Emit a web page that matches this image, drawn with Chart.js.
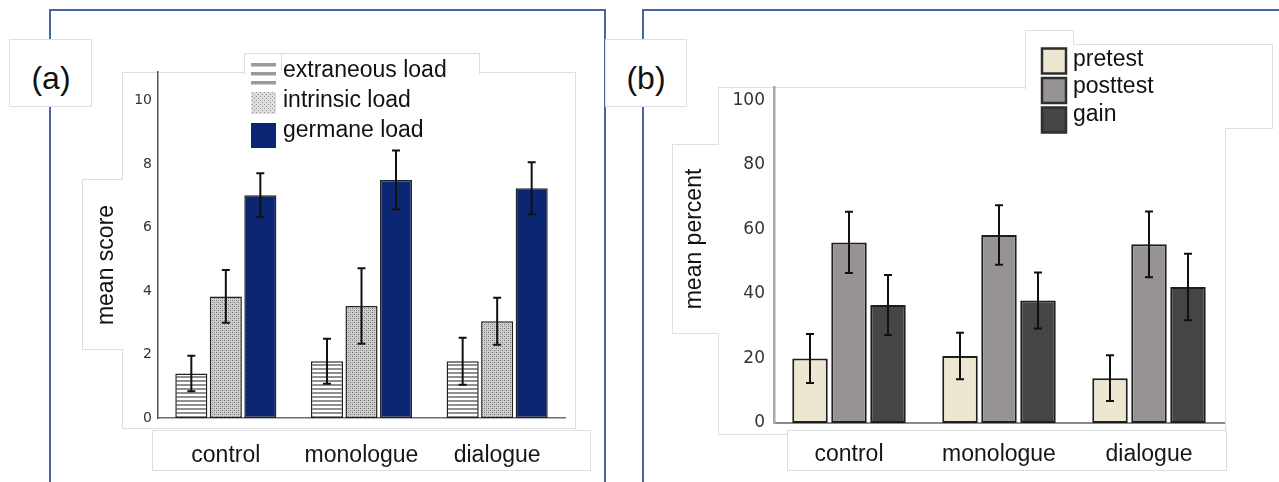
<!DOCTYPE html>
<html><head><meta charset="utf-8">
<script src="https://cdn.jsdelivr.net/npm/chart.js@4.4.1/dist/chart.umd.min.js"></script>
<style>
html,body{margin:0;padding:0;background:#fff;width:1279px;height:482px;overflow:hidden;position:relative;font-family:'Liberation Sans',Arial,sans-serif;}
.fr{position:absolute;border:2.5px solid #4366a8;border-bottom:none;box-sizing:border-box;}
.bx{position:absolute;background:#fff;box-sizing:border-box;border:0 solid #dedede;}
.ln{position:absolute;background:#dedede;}
.lbl{position:absolute;font-size:32px;line-height:40px;color:#111;text-align:center;}
canvas{position:absolute;top:0;}
</style></head><body>
<div class="fr" style="left:49px;top:9px;width:557px;height:500px;"></div>
<div class="fr" style="left:642px;top:9px;width:700px;height:500px;"></div>

<!-- panel a boxes -->
<div class="bx" style="left:122px;top:72px;width:454px;height:357px;border-width:1px;"></div>
<div class="bx" style="left:82px;top:179px;width:41px;height:171px;border-width:1px 0 1px 1px;"></div>
<div class="bx" style="left:244px;top:53px;width:236px;height:22px;border-width:1px 1px 0 1px;"></div>
<div class="ln" style="left:281px;top:53px;width:1px;height:18px;"></div>
<div class="bx" style="left:152px;top:430px;width:439px;height:41px;border-width:1px;"></div>
<div class="bx" style="left:9px;top:39px;width:83px;height:68px;border-width:1px;"></div>
<div class="lbl" style="left:9px;top:58px;width:84px;">(a)</div>

<!-- panel b boxes -->
<div class="bx" style="left:718px;top:87px;width:508px;height:348px;border-width:1px;"></div>
<div class="bx" style="left:672px;top:144px;width:47px;height:190px;border-width:1px 0 1px 1px;"></div>
<div class="bx" style="left:1025px;top:30px;width:49px;height:60px;border-width:1px 1px 0 1px;"></div>
<div class="bx" style="left:1073px;top:44px;width:200px;height:85px;border-width:1px 1px 0 0;"></div>
<div class="ln" style="left:1225px;top:128px;width:48px;height:1px;"></div>
<div class="bx" style="left:787px;top:430px;width:440px;height:41px;border-width:1px;"></div>
<div class="bx" style="left:605px;top:39px;width:82px;height:68px;border-width:1px;"></div>
<div class="lbl" style="left:605px;top:58px;width:82px;">(b)</div>

<canvas id="ca" width="640" height="482" style="left:0px;"></canvas>
<canvas id="cb" width="639" height="482" style="left:640px;"></canvas>

<script>
// ---------- data ----------
const categories = ['control', 'monologue', 'dialogue'];

const loadLabels = ['extraneous load', 'intrinsic load', 'germane load'];
const extraneousMean = [1.40, 1.79, 1.79];
const extraneousErr  = [0.56, 0.71, 0.74];
const intrinsicMean  = [3.83, 3.53, 3.05];
const intrinsicErr   = [0.83, 1.19, 0.74];
const germaneMean    = [7.02, 7.50, 7.24];
const germaneErr     = [0.69, 0.93, 0.82];
const scoreTicks     = [0, 2, 4, 6, 8, 10];

const testLabels   = ['pretest', 'posttest', 'gain'];
const pretestMean  = [20.0, 20.8, 13.9];
const pretestErr   = [7.6, 7.2, 7.1];
const posttestMean = [56.0, 58.3, 55.4];
const posttestErr  = [9.5, 9.2, 10.2];
const gainMean     = [36.6, 38.0, 42.2];
const gainErr      = [9.3, 8.7, 10.3];
const percentTicks = [0, 20, 40, 60, 80, 100];

// ---------- styles ----------
const SANS = "'Liberation Sans', Arial, sans-serif";
const TICKF = "'DejaVu Sans', sans-serif";
const NAVY = '#0b2672';

function makePattern(w, h, fn) {
  const c = document.createElement('canvas'); c.width = w; c.height = h;
  const g = c.getContext('2d'); fn(g);
  return g.createPattern(c, 'repeat');
}
const stripePattern = makePattern(4, 4, g => {
  g.fillStyle = '#ffffff'; g.fillRect(0, 0, 4, 4);
  g.fillStyle = '#8f8f8f'; g.fillRect(0, 0, 4, 2);
});
const dotPattern = makePattern(4, 4, g => {
  g.fillStyle = '#cfcfcf'; g.fillRect(0, 0, 4, 4);
  g.fillStyle = '#6e6e6e'; g.fillRect(0, 0, 1, 1); g.fillRect(2, 2, 1, 1);
  g.fillStyle = '#a6a6a6'; g.fillRect(2, 0, 1, 1); g.fillRect(0, 2, 1, 1);
});
const legendDotPattern = makePattern(4, 4, g => {
  g.fillStyle = '#dedede'; g.fillRect(0, 0, 4, 4);
  g.fillStyle = '#909090'; g.fillRect(0, 0, 1, 1); g.fillRect(2, 2, 1, 1);
});

// ---------- plugins ----------
const errorBars = {
  id: 'errorBars',
  afterDatasetsDraw(chart, args, opts) {
    const ctx = chart.ctx, ys = chart.scales.y;
    ctx.save();
    ctx.strokeStyle = opts.color; ctx.lineWidth = opts.width;
    chart.data.datasets.forEach((ds, i) => {
      const meta = chart.getDatasetMeta(i);
      meta.data.forEach((bar, j) => {
        const v = ds.data[j], e = ds.errors[j];
        const t = ys.getPixelForValue(v + e), b = ys.getPixelForValue(v - e);
        const x = bar.x, c = opts.cap;
        ctx.beginPath();
        ctx.moveTo(x, t); ctx.lineTo(x, b);
        ctx.moveTo(x - c, t); ctx.lineTo(x + c, t);
        ctx.moveTo(x - c, b); ctx.lineTo(x + c, b);
        ctx.stroke();
      });
    });
    ctx.restore();
  }
};

const sideTexts = {
  id: 'sideTexts',
  afterDraw(chart, args, opts) {
    const ctx = chart.ctx;
    ctx.save();
    const t = opts.yTitle;
    ctx.translate(t.x, t.y); ctx.rotate(-Math.PI / 2);
    ctx.font = t.size + 'px ' + SANS; ctx.fillStyle = '#111';
    ctx.textAlign = 'center'; ctx.textBaseline = 'alphabetic';
    ctx.fillText(t.text, 0, 0);
    ctx.restore();
    ctx.save();
    const L = opts.legend;
    ctx.font = L.size + 'px ' + SANS;
    ctx.textAlign = 'left'; ctx.textBaseline = 'alphabetic';
    chart.data.datasets.forEach((ds, i) => {
      const it = L.items[i];
      it.draw(ctx, ds);
      ctx.fillStyle = '#111';
      ctx.fillText(ds.label, L.textX, it.baseline);
    });
    ctx.restore();
  }
};

// ---------- panel (a) ----------
const dsA = [
  { label: loadLabels[0], data: extraneousMean, errors: extraneousErr, backgroundColor: stripePattern },
  { label: loadLabels[1], data: intrinsicMean,  errors: intrinsicErr,  backgroundColor: dotPattern },
  { label: loadLabels[2], data: germaneMean,    errors: germaneErr,    backgroundColor: NAVY }
].map(d => Object.assign(d, {
  borderColor: '#222222', borderWidth: 1.5, borderSkipped: false,
  categoryPercentage: 0.763, barPercentage: 0.93
}));

new Chart(document.getElementById('ca'), {
  type: 'bar',
  data: { labels: categories, datasets: dsA },
  plugins: [errorBars, sideTexts],
  options: {
    responsive: false, animation: false,
    layout: { padding: { left: 80, right: 75, top: 72, bottom: 0 } },
    plugins: {
      legend: { display: false }, tooltip: { enabled: false },
      errorBars: { color: '#111', width: 2, cap: 4 },
      sideTexts: {
        yTitle: { text: 'mean score', x: 113, y: 265, size: 23 },
        legend: {
          size: 23, textX: 283,
          items: [
            { baseline: 77, draw: (ctx) => { ctx.fillStyle = '#9a9a9a'; [63, 72, 81].forEach(y => ctx.fillRect(251, y, 25, 3.5)); } },
            { baseline: 107, draw: (ctx) => { ctx.fillStyle = legendDotPattern; ctx.fillRect(251, 92, 25, 22); } },
            { baseline: 137, draw: (ctx) => { ctx.fillStyle = NAVY; ctx.fillRect(251, 123, 25, 25); } }
          ]
        }
      }
    },
    scales: {
      x: {
        type: 'category', offset: true,
        grid: { display: false, drawTicks: false },
        border: { display: true, color: '#6e6e6e', width: 1.5 },
        ticks: { padding: 24, color: '#161616', font: { family: SANS, size: 23 }, maxRotation: 0, autoSkip: false },
        afterFit(s) { s.height = 64; }
      },
      y: {
        min: 0, max: 10.9,
        grid: { display: false, drawTicks: false },
        border: { display: true, color: '#555555', width: 1.5 },
        ticks: { padding: 6, color: '#333', font: { family: TICKF, size: 14 } },
        afterBuildTicks(s) { s.ticks = scoreTicks.map(v => ({ value: v })); },
        afterFit(s) { s.width = 78; }
      }
    }
  }
});

// ---------- panel (b) ----------
const OX = 640;
const dsB = [
  { label: testLabels[0], data: pretestMean,  errors: pretestErr,  backgroundColor: '#ede6d0' },
  { label: testLabels[1], data: posttestMean, errors: posttestErr, backgroundColor: '#979393' },
  { label: testLabels[2], data: gainMean,     errors: gainErr,     backgroundColor: '#444546' }
].map(d => Object.assign(d, {
  borderColor: '#1e1e1e', borderWidth: 2, borderSkipped: false,
  categoryPercentage: 0.78, barPercentage: 0.91
}));

function swatch(x, y, color) {
  return (ctx) => {
    ctx.fillStyle = color; ctx.fillRect(x, y, 24, 25);
    ctx.strokeStyle = '#2e2e2e'; ctx.lineWidth = 2.5; ctx.strokeRect(x, y, 24, 25);
  };
}

new Chart(document.getElementById('cb'), {
  type: 'bar',
  data: { labels: categories, datasets: dsB },
  plugins: [errorBars, sideTexts],
  options: {
    responsive: false, animation: false,
    layout: { padding: { left: 80, right: 55, top: 87, bottom: 0 } },
    plugins: {
      legend: { display: false }, tooltip: { enabled: false },
      errorBars: { color: '#111', width: 2, cap: 4 },
      sideTexts: {
        yTitle: { text: 'mean percent', x: 701 - OX, y: 239, size: 23 },
        legend: {
          size: 23, textX: 1073 - OX,
          items: [
            { baseline: 66, draw: swatch(1042 - OX, 48.5, '#ede6d0') },
            { baseline: 93, draw: swatch(1042 - OX, 78, '#979393') },
            { baseline: 121, draw: swatch(1042 - OX, 107.5, '#444546') }
          ]
        }
      }
    },
    scales: {
      x: {
        type: 'category', offset: true,
        grid: { display: false, drawTicks: false },
        border: { display: true, color: '#8a8a8a', width: 2 },
        ticks: { padding: 18, color: '#161616', font: { family: SANS, size: 23 }, maxRotation: 0, autoSkip: false },
        afterFit(s) { s.height = 59; }
      },
      y: {
        min: 0, max: 104.2,
        grid: { display: false, drawTicks: false },
        border: { display: true, color: '#a8a8a8', width: 2.5 },
        ticks: { padding: 9, color: '#333', font: { family: TICKF, size: 17 } },
        afterBuildTicks(s) { s.ticks = percentTicks.map(v => ({ value: v })); },
        afterFit(s) { s.width = 54; }
      }
    }
  }
});
</script>
</body></html>
